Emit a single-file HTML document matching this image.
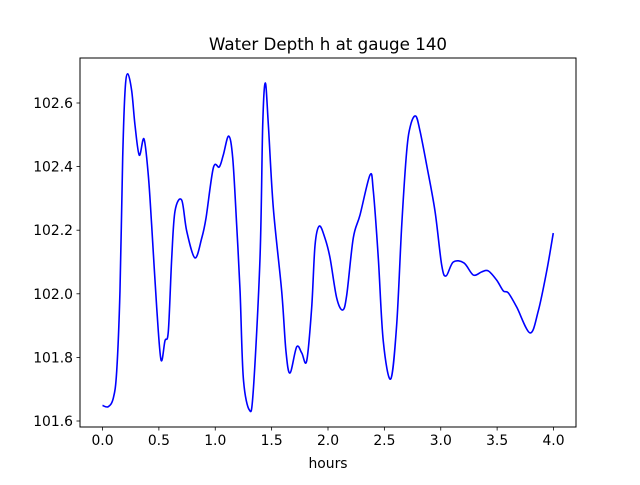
<!DOCTYPE html>
<html><head><meta charset="utf-8"><style>
body{margin:0;background:#fff}
svg text{font-family:"DejaVu Sans","Liberation Sans",sans-serif;fill:#000}
</style></head><body>
<svg width="640" height="480">
<rect width="640" height="480" fill="#fff"/>
<text x="328" y="50" text-anchor="middle" font-size="16.7">Water Depth h at gauge 140</text>
<g id="plot"></g>
<rect x="80" y="58" width="496" height="369" fill="none" stroke="#000" stroke-width="1"/>
<g id="xt"></g>
<g id="yt"></g>
<text x="328" y="468" text-anchor="middle" font-size="13.9">hours</text>
</svg>
<script>
const hours=[0.0,0.051,0.096,0.126,0.155,0.179,0.200,0.224,0.259,0.288,0.326,0.368,0.406,0.436,0.481,0.519,0.554,0.584,0.614,0.643,0.702,0.747,0.820,0.880,0.918,0.983,1.036,1.071,1.119,1.155,1.190,1.220,1.249,1.302,1.337,1.397,1.421,1.444,1.471,1.515,1.589,1.627,1.663,1.722,1.767,1.811,1.855,1.885,1.923,1.973,2.018,2.077,2.130,2.166,2.224,2.284,2.373,2.402,2.446,2.490,2.556,2.609,2.654,2.698,2.733,2.778,2.816,2.875,2.949,3.008,3.047,3.111,3.206,3.289,3.363,3.422,3.496,3.555,3.599,3.674,3.792,3.865,3.940,3.998];
const depth=[101.649,101.645,101.672,101.757,102.009,102.427,102.638,102.692,102.638,102.531,102.436,102.487,102.374,102.216,101.955,101.792,101.852,101.883,102.113,102.260,102.295,102.197,102.113,102.175,102.238,102.396,102.399,102.436,102.496,102.427,102.216,102.009,101.735,101.635,101.694,102.113,102.531,102.663,102.531,102.270,102.009,101.820,101.751,101.833,101.814,101.789,101.955,102.153,102.213,102.175,102.113,101.987,101.949,101.996,102.175,102.248,102.374,102.323,102.113,101.852,101.732,101.902,102.216,102.449,102.531,102.559,102.512,102.405,102.260,102.091,102.056,102.100,102.097,102.059,102.069,102.072,102.043,102.009,102.003,101.958,101.877,101.946,102.072,102.191];
const xTicks=[0,0.5,1,1.5,2,2.5,3,3.5,4];
const xTickLabels=["0.0","0.5","1.0","1.5","2.0","2.5","3.0","3.5","4.0"];
const yTicks=[101.6,101.8,102.0,102.2,102.4,102.6];
const yTickLabels=["101.6","101.8","102.0","102.2","102.4","102.6"];
const NS="http://www.w3.org/2000/svg";
const X=h=>102.5+h*112.75;
const Y=v=>421-(v-101.6)*318;
function mk(t,a,p){const e=document.createElementNS(NS,t);for(const k in a)e.setAttribute(k,a[k]);p.appendChild(e);return e;}
// smooth path (Catmull-Rom)
const pts=hours.map((h,i)=>[X(h),Y(depth[i])]);
let d="M"+pts[0][0]+","+pts[0][1];
for(let i=0;i<pts.length-1;i++){
 const p0=pts[Math.max(0,i-1)],p1=pts[i],p2=pts[i+1],p3=pts[Math.min(pts.length-1,i+2)];
 d+=" C"+(p1[0]+(p2[0]-p0[0])/6)+","+(p1[1]+(p2[1]-p0[1])/6)+" "+(p2[0]-(p3[0]-p1[0])/6)+","+(p2[1]-(p3[1]-p1[1])/6)+" "+p2[0]+","+p2[1];
}
const line=mk("path",{d:d,fill:"none",stroke:"#0000ff","stroke-width":1.6,"stroke-linejoin":"round"},document.getElementById("plot"));


const xt=document.getElementById("xt"),yt=document.getElementById("yt");
xTicks.forEach((t,i)=>{
 const l=mk("line",{x1:X(t),x2:X(t),y1:427,y2:430.5,stroke:"#000","stroke-width":0.8},xt);
 
 
 const tx=mk("text",{x:X(t),y:445,"text-anchor":"middle","font-size":"13.9"},xt);
 tx.textContent=xTickLabels[i];
 
 
});
yTicks.forEach((t,i)=>{
 const l=mk("line",{x1:76.5,x2:80,y1:Y(t),y2:Y(t),stroke:"#000","stroke-width":0.8},yt);
 
 
 const tx=mk("text",{x:73,y:Y(t)+5,"text-anchor":"end","font-size":"13.9"},yt);
 tx.textContent=yTickLabels[i];
 
 
});
</script>
</body></html>
